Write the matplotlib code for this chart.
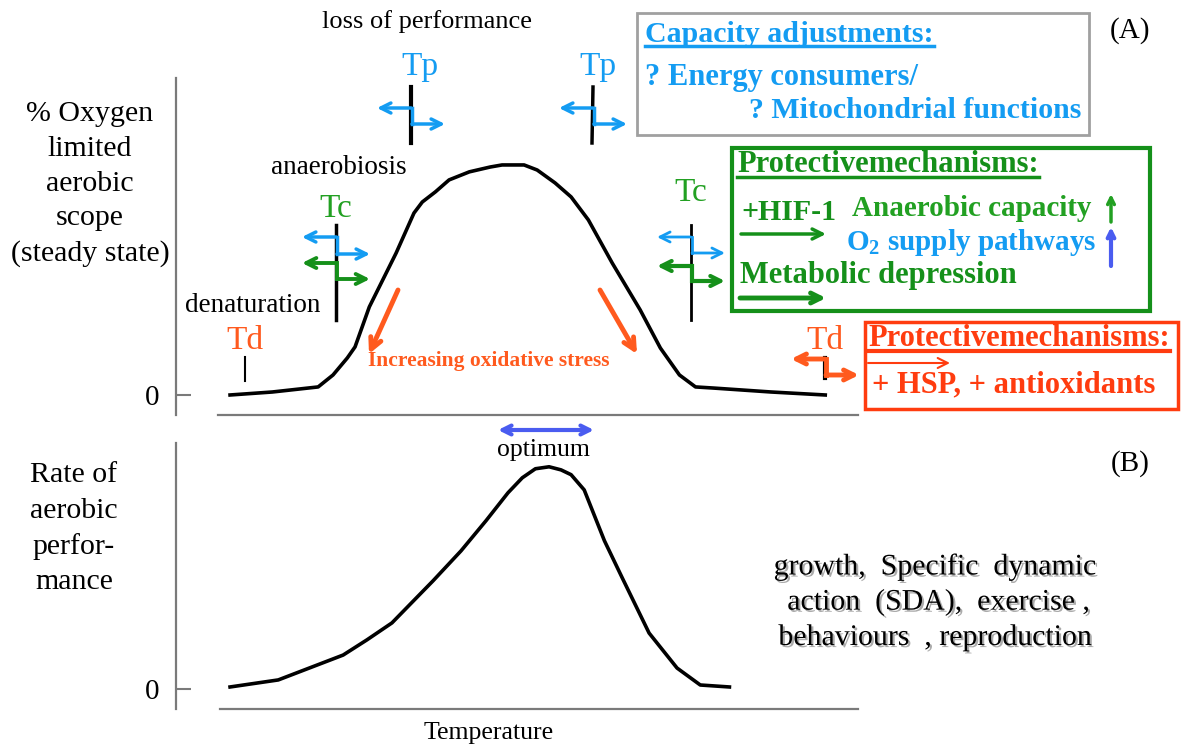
import matplotlib
matplotlib.use('Agg')
import matplotlib.pyplot as plt
import matplotlib.patheffects as pe
from matplotlib.patches import Rectangle

plt.rcParams['font.family'] = ['Liberation Serif', 'DejaVu Serif']
plt.rcParams['mathtext.fontset'] = 'custom'
plt.rcParams['mathtext.rm'] = 'Liberation Serif'
plt.rcParams['mathtext.bf'] = 'Liberation Serif:bold'

# panel A: oxygen limited aerobic scope vs temperature (arbitrary units)
temp_a = [0, 7.1, 14.8, 17.3, 19.7, 21.0, 23.4, 27.9, 30.9, 32.3, 34.5, 36.8, 40.2, 43.7,
          45.7, 49.4, 51.6, 54.6, 57.3, 60.2, 64.2, 68.9, 72.3, 75.5, 78.2, 81.3, 90.9, 100]
scope_a = [0, 1.3, 3.5, 8.7, 16.1, 20.9, 38.3, 61.7, 79.1, 83.9, 88.3, 93.5, 97.0, 99.1,
           100, 100, 97.8, 92.2, 86.1, 76.1, 57.4, 37.0, 20.4, 8.7, 3.5, 3.0, 1.3, 0]

# panel B: rate of aerobic performance
temp_b = [0, 8.1, 19.0, 23.0, 27.2, 34.1, 38.8, 43.0, 46.7, 49.1, 51.3, 53.6, 55.6, 57.3,
          59.5, 62.9, 65.9, 70.4, 75.1, 79.0, 83.9]
perf_b = [1, 4.2, 15.5, 22.4, 30.1, 49.2, 62.8, 76.5, 89.2, 96.0, 100.1, 101, 99.6, 97.4,
          90.5, 67.4, 50.5, 25.5, 9.6, 1.9, 1]

label_a = ['% Oxygen', 'limited', 'aerobic', 'scope', '(steady state)']
label_b = ['Rate of', 'aerobic', 'perfor-', 'mance']
activities = ['growth,  Specific  dynamic', ' action  (SDA),  exercise ,', 'behaviours  , reproduction']

W, H = 1181, 747
fig = plt.figure(figsize=(W / 100, H / 100), dpi=100)


def frac(x0, y0, x1, y1):
    # pixel box (top-left origin) -> figure fraction rect
    return [x0 / W, 1 - y1 / H, (x1 - x0) / W, (y1 - y0) / H]


def panel(rect, ylim, xstart):
    ax = fig.add_axes(rect)
    ax.set_xlim(-9.08, 105.5)
    ax.set_ylim(*ylim)
    ax.patch.set_alpha(0)
    for s in ['top', 'right']:
        ax.spines[s].set_visible(False)
    for s in ['left', 'bottom']:
        ax.spines[s].set_color('#7a7a7a')
        ax.spines[s].set_linewidth(1.6)
    ax.spines['bottom'].set_bounds(xstart, 105.5)
    ax.set_xticks([])
    ax.set_yticks([0])
    ax.set_yticklabels(['0'])
    ax.tick_params(axis='y', direction='in', length=11, width=1.5, color='#7a7a7a',
                   labelsize=21, pad=12)
    return ax


axA = panel(frac(176, 78, 858, 415), (-8.7, 137.8), -2.0)
axA.plot(temp_a, scope_a, color='black', lw=2.6, solid_joinstyle='round')

axB = panel(frac(176, 443, 858, 709), (-9.0, 111.8), -1.7)
axB.plot(temp_b, perf_b, color='black', lw=2.6, solid_joinstyle='round')

# overlay in pixel coordinates for annotations
ov = fig.add_axes([0, 0, 1, 1])
ov.set_xlim(0, W)
ov.set_ylim(H, 0)
ov.axis('off')
ov.patch.set_alpha(0)

BLUE = '#149cf2'
GREEN = '#15901a'
LGREEN = '#22a022'
ORANGE = '#ff5a1e'
RED = '#ff3c0f'
VIOLET = '#4a5cf0'


def arrow(x0, y0, x1, y1, color, lw=2.5, style='->', ms=18):
    ov.annotate('', xy=(x1, y1), xytext=(x0, y0),
                arrowprops=dict(arrowstyle=style, color=color, lw=lw,
                                mutation_scale=ms, shrinkA=0, shrinkB=0))


def step_arrows(x, y1, y2, color, dx=34, lw=2.5):
    arrow(x, y1, x - dx, y1, color, lw)
    ov.plot([x + 1, x + 1], [y1, y2], color=color, lw=lw)
    arrow(x + 1, y2, x + dx, y2, color, lw)


def underline(t, color, lw=2.5, dy=3):
    fig.canvas.draw()
    bb = t.get_window_extent()
    inv = ov.transData.inverted()
    (xa, ya), (xb, yb) = inv.transform([(bb.x0, bb.y0), (bb.x1, bb.y1)])
    ov.plot([xa, xb], [ya - dy, ya - dy], color=color, lw=lw)


# axis labels
for i, s in enumerate(label_a):
    ov.text(90, 114 + i * 34.8, s, fontsize=21.5, ha='center', va='center')
for i, s in enumerate(label_b):
    ov.text(74, 475 + i * 35.7, s, fontsize=21.5, ha='center', va='center')

ov.text(427, 22, 'loss of performance', fontsize=19, ha='center', va='center')
ov.text(339, 168, 'anaerobiosis', fontsize=19.5, ha='center', va='center')
ov.text(253, 305, 'denaturation', fontsize=19.5, ha='center', va='center')
ov.text(543, 450, 'optimum', fontsize=18.5, ha='center', va='center')
ov.text(489, 733, 'Temperature', fontsize=18.5, ha='center', va='center')
ov.text(1130, 31, '(A)', fontsize=21, ha='center', va='center')
ov.text(1130, 464, '(B)', fontsize=21, ha='center', va='center')

# threshold labels
for x, s, c in [(420, 'Tp', BLUE), (598, 'Tp', BLUE), (336, 'Tc', LGREEN),
                (691, 'Tc', LGREEN), (245, 'Td', ORANGE), (825, 'Td', ORANGE)]:
    y = {'Tp': 67, 'Tc': 209, 'Td': 341}[s]
    if s == 'Tc' and x > 600:
        y = 193
    ov.text(x, y, s, fontsize=24, color=c, ha='center', va='center')

# threshold markers
ov.plot([411, 411], [87, 143], color='black', lw=3)
ov.plot([593, 592], [87, 143], color='black', lw=2.5)
ov.plot([336, 336], [225, 320], color='black', lw=2.5)
ov.plot([691, 691], [225, 320], color='black', lw=2)
ov.plot([245, 245], [357, 381], color='black', lw=1.5)
ov.plot([825, 825], [358, 378], color='black', lw=3)

step_arrows(411, 108, 124, BLUE)
step_arrows(593, 108, 124, BLUE)
step_arrows(336, 237, 254, BLUE)
step_arrows(336, 263, 279, GREEN, lw=2.8)
step_arrows(691, 237, 253, BLUE, lw=2)
step_arrows(691, 266, 281, GREEN, lw=3)
step_arrows(825, 359, 375, ORANGE, lw=3.5)

# oxidative stress
arrow(398, 290, 369, 354, ORANGE, lw=3.5, ms=20)
arrow(600, 290, 637, 354, ORANGE, lw=3.5, ms=20)
ov.text(489, 361, 'Increasing oxidative stress', fontsize=15.5, fontweight='bold',
        color=ORANGE, ha='center', va='center')

# optimum range
arrow(498, 430, 594, 430, VIOLET, lw=3, style='<->', ms=16)

# capacity box
ov.add_patch(Rectangle((637, 13), 452, 122, fill=False, edgecolor='#a0a0a0', lw=2))
t = ov.text(645, 35, 'Capacity adjustments:', fontsize=21.5, fontweight='bold',
            color=BLUE, ha='left', va='center')
underline(t, BLUE)
ov.text(645, 78, '? Energy consumers/', fontsize=22, fontweight='bold', color=BLUE,
        ha='left', va='center')
ov.text(1081, 111, '? Mitochondrial functions', fontsize=21.5, fontweight='bold',
        color=BLUE, ha='right', va='center')

# protective mechanisms (hypoxia)
ov.add_patch(Rectangle((732, 148), 418, 163, fill=False, edgecolor=GREEN, lw=3))
t = ov.text(737, 165, 'Protectivemechanisms:', fontsize=22, fontweight='bold',
            color=GREEN, ha='left', va='center')
underline(t, GREEN)
ov.text(741, 212, '+HIF-1', fontsize=21.5, fontweight='bold', color=GREEN,
        ha='left', va='center')
arrow(741, 234, 826, 234, GREEN, lw=2.5)
ov.text(852, 208, 'Anaerobic capacity', fontsize=21, fontweight='bold', color=LGREEN,
        ha='left', va='center')
ov.text(846, 243, r'O$_\mathbf{2}$ supply pathways', fontsize=21, fontweight='bold',
        color=BLUE, ha='left', va='center')
arrow(1111, 222, 1111, 194, LGREEN, lw=2.5, ms=12)
arrow(1111, 266, 1111, 227, VIOLET, lw=3, ms=12)
ov.text(740, 276, 'Metabolic depression', fontsize=22, fontweight='bold', color=GREEN,
        ha='left', va='center')
arrow(740, 298, 826, 298, GREEN, lw=3.5)

# protective mechanisms (heat)
ov.add_patch(Rectangle((865, 322), 313, 87, fill=False, edgecolor=RED, lw=2.5))
t = ov.text(868, 339, 'Protectivemechanisms:', fontsize=22, fontweight='bold',
            color=RED, ha='left', va='center')
underline(t, RED, lw=3)
arrow(868, 363, 950, 363, RED, lw=1.5)
ov.text(872, 385, '+ HSP, + antioxidants', fontsize=22, fontweight='bold', color=RED,
        ha='left', va='center')

# activities in panel B
shadow = [pe.SimplePatchShadow(offset=(1.5, -1.5), shadow_rgbFace='#888888', alpha=0.7),
          pe.Normal()]
for i, s in enumerate(activities):
    ov.text(935, 567 + i * 35.5, s, fontsize=21.5, ha='center', va='center',
            path_effects=shadow)

fig.savefig('out.png', dpi=100)
